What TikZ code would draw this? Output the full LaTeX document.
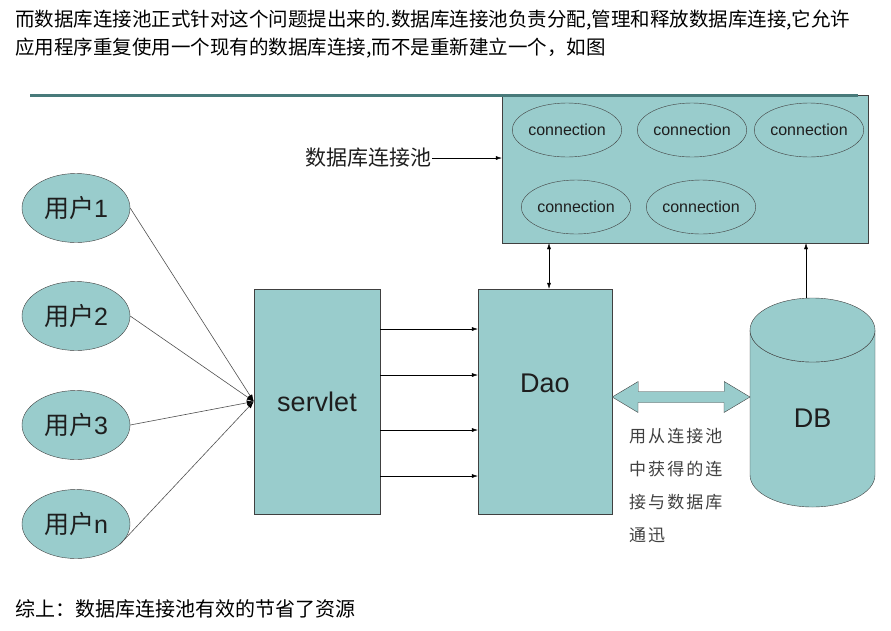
\documentclass[tikz,border=0pt]{standalone}
\usepackage{fontspec}
\setmainfont{Liberation Sans}
\newfontfamily\cjk{Noto Sans CJK SC}
\newfontfamily\cjkwide[LetterSpace=12]{Noto Sans CJK SC}
\usetikzlibrary{arrows.meta,shapes.geometric,positioning}

\definecolor{poolteal}{RGB}{153,204,204}
\definecolor{edgegray}{RGB}{64,64,64}
\definecolor{linegray}{RGB}{80,80,80}
\definecolor{ruleteal}{RGB}{72,122,122}
\definecolor{inkgray}{RGB}{30,30,30}

\begin{document}
\begin{tikzpicture}[x=1pt,y=-1pt,>={Latex[length=6pt,width=4pt]},thin,
    box node/.style={rectangle,draw=edgegray,fill=poolteal,inner sep=0pt,text=inkgray},
    user node/.style={ellipse,draw=edgegray,fill=poolteal,minimum width=108pt,minimum height=69pt,inner sep=0pt,text=inkgray,font=\fontsize{25}{25}\selectfont},
    conn node/.style={ellipse,draw=edgegray,fill=poolteal,minimum width=101pt,minimum height=54pt,inner sep=0pt,text=inkgray,font=\fontsize{16}{16}\selectfont},
    line node/.style={inner sep=0pt,anchor=base west,font=\cjk\fontsize{19.5}{20}\selectfont}]
    \useasboundingbox (0,0) rectangle (891,630);

    % text above and below
    \node[line node] (title1) at (15,26) {而数据库连接池正式针对这个问题提出来的.数据库连接池负责分配,管理和释放数据库连接,它允许};
    \node[line node] (title2) at (15,54) {应用程序重复使用一个现有的数据库连接,而不是重新建立一个，如图};
    \node[line node,font=\cjk\fontsize{20}{20}\selectfont] (summary) at (15,616) {综上：数据库连接池有效的节省了资源};

    % connection pool
    \node[box node,minimum width=366pt,minimum height=148pt] (pool) at (685,169) {};
    \draw[ruleteal,line width=3pt] (30,95) -- (858,95);
    \node[conn node] (c1) at (567,130) {connection};
    \node[conn node] (c2) at (692,130) {connection};
    \node[conn node] (c3) at (809,130) {connection};
    \node[conn node] (c4) at (576,207) {connection};
    \node[conn node] (c5) at (701,207) {connection};
    \node[inner sep=0pt,anchor=east,text=inkgray,font=\cjk\fontsize{21}{21}\selectfont] (poollabel) at (432,158) {数据库连接池};

    % users
    \node[user node] (u1) at (76,208) {{\cjk 用户}1};
    \node[user node] (u2) at (76,316) {{\cjk 用户}2};
    \node[user node] (u3) at (76,425) {{\cjk 用户}3};
    \node[user node] (un) at (76,524) {{\cjk 用户}n};

    % servlet, dao, db
    \node[box node,minimum width=126pt,minimum height=225pt,font=\fontsize{27}{27}\selectfont] (servlet) at (317,401.5) {servlet};
    \node[box node,minimum width=134pt,minimum height=225pt,font=\fontsize{27}{27}\selectfont,text depth=0pt] (dao) at (545,401.5) {\raisebox{37pt}{Dao}};
    \filldraw[draw=edgegray,fill=poolteal] (750,330) -- (750,475) arc[start angle=180,end angle=0,x radius=62.5,y radius=32] -- (875,330) arc[start angle=0,end angle=180,x radius=62.5,y radius=32];
    \filldraw[draw=edgegray,fill=poolteal] (812.5,330) ellipse[x radius=62.5,y radius=32];
    \node[inner sep=0pt,text=inkgray,font=\fontsize{27}{27}\selectfont] (db) at (812.5,418) {DB};
    \coordinate (dbtop) at (806,298);

    % double arrow dao <-> db
    \coordinate (dl) at (dao.east |- 0,397);
    \coordinate (dr) at (750,397);
    \filldraw[draw=edgegray,fill=poolteal] (dl) -- ++(26,-15.5) -- ++(0,10) -- ++(86,0) -- ++(0,-10) -- (dr)
        -- ++(-26,15.5) -- ++(0,-10) -- ++(-86,0) -- ++(0,10) -- cycle;
    \node[inner sep=0pt,anchor=north west,align=left,text=inkgray!85,font=\cjkwide\fontsize{17}{33}\selectfont] (note) at (629,428) {用从连接池\\中获得的连\\接与数据库\\通迅};

    \path[every edge/.style={draw=linegray,line width=0.6pt,-{Latex[length=7pt,width=5pt,black]}}]
        (u1.east) edge (servlet.west)
        (u2.east) edge (servlet.west)
        (u3.east) edge (servlet.west)
        (un.-25) edge (servlet.west)
        ;
    \foreach \y in {329,375,430,476}
        \draw[->] (servlet.east |- 0,\y) -- (dao.west |- 0,\y);
    \draw[->] (poollabel.east) -- (poollabel.east -| pool.west);
    \draw[<->] ([xshift=4pt]dao.north) -- ([xshift=4pt]dao.north |- pool.south);
    \draw[->] (dbtop) -- (dbtop |- pool.south);
\end{tikzpicture}
\end{document}
